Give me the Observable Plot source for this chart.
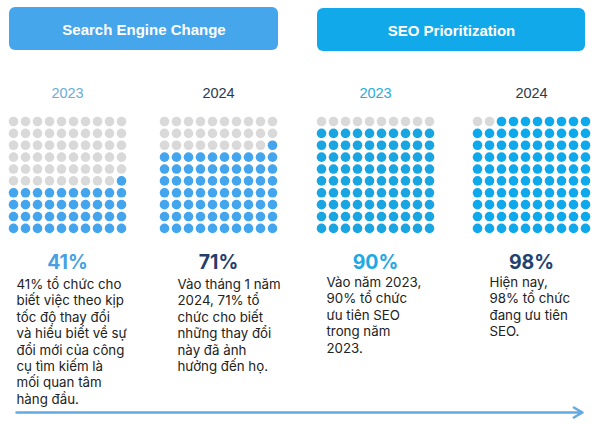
<!DOCTYPE html>
<html><head><meta charset="utf-8">
<script src="https://cdn.jsdelivr.net/npm/d3@7"></script>
<script src="https://cdn.jsdelivr.net/npm/@observablehq/plot@0.6"></script>
<style>body{margin:0;background:#fff}</style>
</head><body><div id="chart"></div>
<script>
// ---- data ----
const groups = ["Search Engine Change", "SEO Prioritization"];
const years = ["2023", "2024", "2023", "2024"];
const values = [41, 71, 90, 98];
const descriptions = [
  ["41% tổ chức cho", "biết việc theo kịp", "tốc độ thay đổi", "và hiểu biết về sự", "đổi mới của công", "cụ tìm kiếm là", "mối quan tâm", "hàng đầu."],
  ["Vào tháng 1 năm", "2024, 71% tổ", "chức cho biết", "những thay đổi", "này đã ảnh", "hưởng đến họ."],
  ["Vào năm 2023,", "90% tổ chức", "ưu tiên SEO", "trong năm", "2023."],
  ["Hiện nay,", "98% tổ chức", "đang ưu tiên", "SEO."]
];

// ---- layout & style ----
const W = 600, H = 424;
const headerBox = [[9, 278, 7, 50], [317, 585, 8, 51]];
const headerColors = ["#45a6ec", "#12a9ea"];
const panelCenter = [67, 218, 375, 531];
const gridTop = 121, step = 12, dotR = 4.8;
const yearY = 93, pctY = 262;
const textLeft = [16, 177, 326, 489];
const textTop = [277, 277, 275, 275];
const yearColors = ["#6aadd8", "#2c3a4f", "#2aadd8", "#2c3a4f"];
const pctColors = ["#4aa0e4", "#243f6b", "#1da9e4", "#23416f"];
const dotColors = ["#42a5ee", "#42a5ee", "#18a5e2", "#0ea9ec"];
const gray = "#d9d9d9";

const headers = groups.map((g, i) => ({
  label: g, x1: headerBox[i][0], x2: headerBox[i][1], y1: headerBox[i][2], y2: headerBox[i][3], color: headerColors[i]
}));
const panels = values.map((v, i) => ({
  i, value: v, year: years[i], pct: v + "%", text: descriptions[i].join("\n"), cx: panelCenter[i]
}));
const dots = [];
panels.forEach(p => {
  for (let k = 0; k < 100; k++) {
    const row = 9 - Math.floor(k / 10), col = 9 - (k % 10);
    dots.push({
      x: p.cx + (col - 4.5) * step,
      y: gridTop + row * step * 0.99,
      fill: k < p.value ? dotColors[p.i] : gray
    });
  }
});

const chart = Plot.plot({
  width: W, height: H, margin: 0,
  x: {domain: [0, W], range: [0, W], axis: null},
  y: {domain: [0, H], range: [0, H], axis: null},
  color: {type: "identity"},
  style: {background: "#fff", overflow: "visible"},
  marks: [
    Plot.rect(headers, {x1: "x1", x2: "x2", y1: "y1", y2: "y2", fill: "color", rx: 6}),
    Plot.text(headers, {x: d => (d.x1 + d.x2) / 2, y: d => (d.y1 + d.y2) / 2 + 1, text: "label", fill: "#fff",
      fontFamily: "Liberation Sans", fontWeight: "bold", fontSize: 15}),
    Plot.text(panels, {x: "cx", y: () => yearY, text: "year", fill: d => yearColors[d.i],
      fontFamily: "Liberation Sans", fontSize: 14.5}),
    Plot.dot(dots, {x: "x", y: "y", r: dotR, fill: "fill"}),
    Plot.text(panels, {x: "cx", y: () => pctY, text: "pct", fill: d => pctColors[d.i],
      fontFamily: "Inter", fontWeight: 700, fontSize: 19.5}),
    Plot.text(panels, {x: d => textLeft[d.i], y: d => textTop[d.i], text: "text", fill: "#222",
      textAnchor: "start", lineAnchor: "top", lineHeight: 1.23, fontFamily: "Inter", fontSize: 13.3}),
    Plot.arrow([0], {x1: () => 16, x2: () => 582, y1: () => 412, y2: () => 412,
      stroke: "#62abe2", strokeWidth: 2.5, headLength: 6, headAngle: 60})
  ]
});
document.getElementById("chart").appendChild(chart);
</script>
</body></html>
